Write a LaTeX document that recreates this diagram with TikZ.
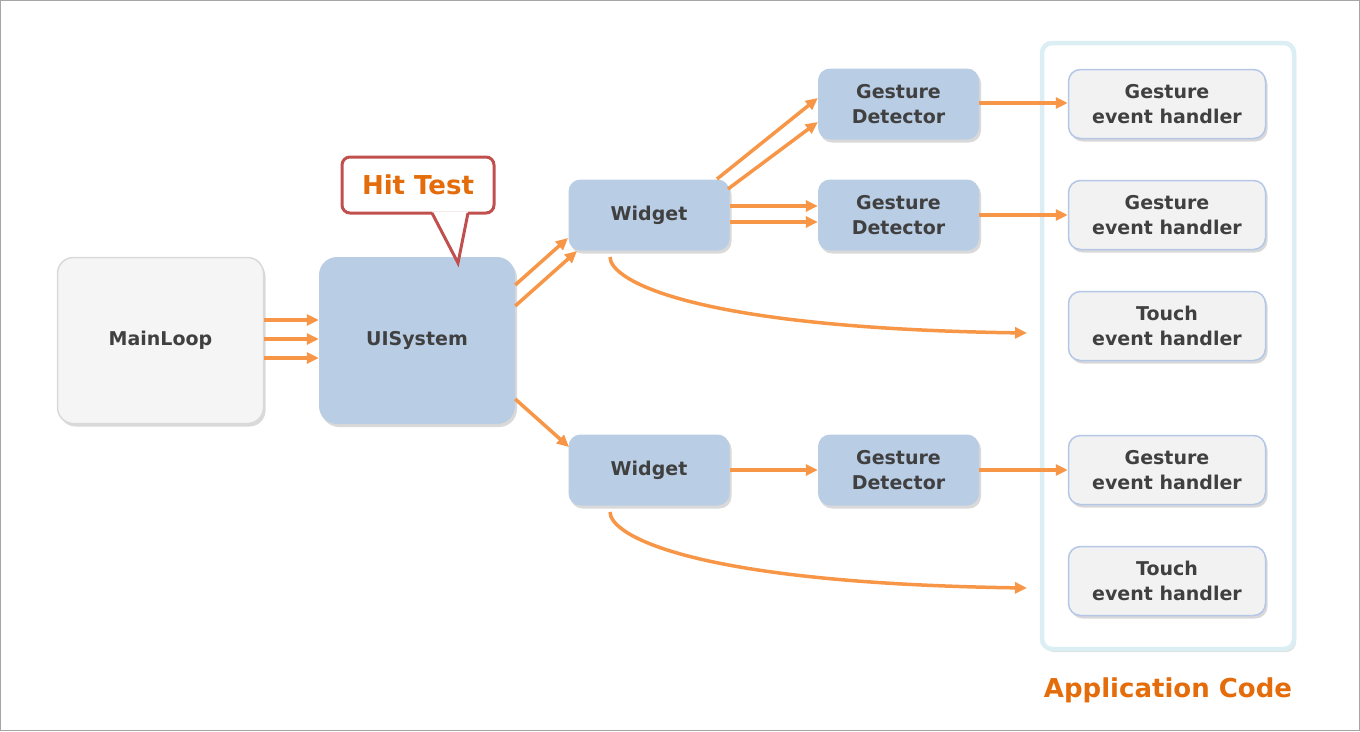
\documentclass[tikz,border=0pt]{standalone}
\usepackage{fontspec}
\setmainfont{DejaVu Sans}
\usetikzlibrary{arrows.meta,shadows}
\definecolor{arr}{HTML}{F79646}
\definecolor{txt}{HTML}{404040}
\definecolor{bluefill}{HTML}{B9CDE5}
\definecolor{mlfill}{HTML}{F5F5F5}
\definecolor{mlborder}{HTML}{D9D9D9}
\definecolor{hfill}{HTML}{F2F2F2}
\definecolor{hborder}{HTML}{B4C7E7}
\definecolor{cborder}{HTML}{DAEEF3}
\definecolor{callred}{HTML}{C0504D}
\definecolor{orangetxt}{HTML}{E46C0A}
\tikzset{
  x=1pt, y=-1pt,
  box/.style={inner sep=0pt, align=center, text=txt, font=\fontsize{19}{25}\selectfont\bfseries,
    drop shadow={opacity=0.3, shadow xshift=2pt, shadow yshift=-3pt}},
  bluebox/.style={box, fill=bluefill, rounded corners=12pt, minimum width=161pt, minimum height=71pt},
  handler/.style={box, fill=hfill, draw=hborder, line width=1.5pt, rounded corners=12pt, minimum width=197pt, minimum height=69pt},
  flow/.style={draw=arr, line width=3.5pt, -{Triangle[length=12pt,width=11pt]}, shorten >=0pt},
}
\begin{document}
\begin{tikzpicture}
\useasboundingbox (0,0) rectangle (1360,731);
\draw[gray!70, line width=1pt] (0.5,0.5) rectangle (1359.5,730.5);

% container
\node[draw=cborder, line width=4.5pt, fill=white, rounded corners=10pt, minimum width=252pt, minimum height=606pt,
  drop shadow={opacity=0.25, shadow xshift=2pt, shadow yshift=-3pt}] (app) at (1168,346) {};
\node[font=\fontsize{26}{30}\selectfont\bfseries, text=orangetxt, inner sep=0pt] (applbl) at (1168,690) {Application Code};

% main nodes
\node[box, fill=mlfill, draw=mlborder, line width=1.5pt, rounded corners=16pt, minimum width=206pt, minimum height=166pt] (main) at (160.5,340.5) {MainLoop};
\node[box, fill=bluefill, rounded corners=18pt, minimum width=196pt, minimum height=167pt] (ui) at (417,340.5) {UISystem};

\node[bluebox] (w1) at (649,215) {Widget};
\node[bluebox] (w2) at (649,470) {Widget};
\node[bluebox] (g1) at (898.5,104) {Gesture\\Detector};
\node[bluebox] (g2) at (898.5,215) {Gesture\\Detector};
\node[bluebox] (g3) at (898.5,470) {Gesture\\Detector};

\node[handler] (h1) at (1167,104) {Gesture\\event handler};
\node[handler] (h2) at (1167,215) {Gesture\\event handler};
\node[handler] (h3) at (1167,326) {Touch\\event handler};
\node[handler] (h4) at (1167,470) {Gesture\\event handler};
\node[handler] (h5) at (1167,581) {Touch\\event handler};

% callout
\node[draw=callred, line width=3pt, fill=white, rounded corners=8pt, minimum width=152pt, minimum height=56pt,
  inner sep=0pt, text=orangetxt, font=\fontsize{26}{30}\selectfont\bfseries] (hit) at (418,185) {Hit Test};
\coordinate (pl) at (432,213);
\coordinate (pr) at (468,213);
\coordinate (ptip) at (458,263);
\fill[white] ([yshift=1.6pt]pl) -- (ptip) -- ([yshift=1.6pt]pr) -- cycle;
\draw[callred, line width=3pt, line join=miter] (pl) -- (ptip) -- (pr);

% arrows MainLoop -> UISystem
\foreach \y in {320,339,358} {
  \draw[flow] (main.east |- 0,\y) -- (ui.west |- 0,\y);
}
% UISystem -> Widget1
\draw[flow] (ui.east |- 0,285) -- (568,238);
\draw[flow] (ui.east |- 0,306) -- (577,251);
% UISystem -> Widget2
\draw[flow] (ui.east |- 0,399) -- (569,447);
% Widget1 -> GD1
\draw[flow] (717,179) -- (g1.west |- 0,98);
\draw[flow] (728,189) -- (g1.west |- 0,122);
% Widget1 -> GD2
\draw[flow] (w1.east |- 0,206) -- (g2.west |- 0,206);
\draw[flow] (w1.east |- 0,222) -- (g2.west |- 0,222);
% GD -> handlers
\draw[flow] (g1.east |- 0,103) -- (h1.west |- 0,103);
\draw[flow] (g2.east |- 0,215) -- (h2.west |- 0,215);
\draw[flow] (w2.east |- 0,470) -- (g3.west |- 0,470);
\draw[flow] (g3.east |- 0,470) -- (h4.west |- 0,470);
% curves
\coordinate (c1e) at (1027,333);
\coordinate (c2e) at (1027,588);
\draw[flow] (610,257) .. controls (610,280) and (690,328) .. (c1e);
\draw[flow] (610,512) .. controls (610,535) and (690,583) .. (c2e);
\end{tikzpicture}
\end{document}
